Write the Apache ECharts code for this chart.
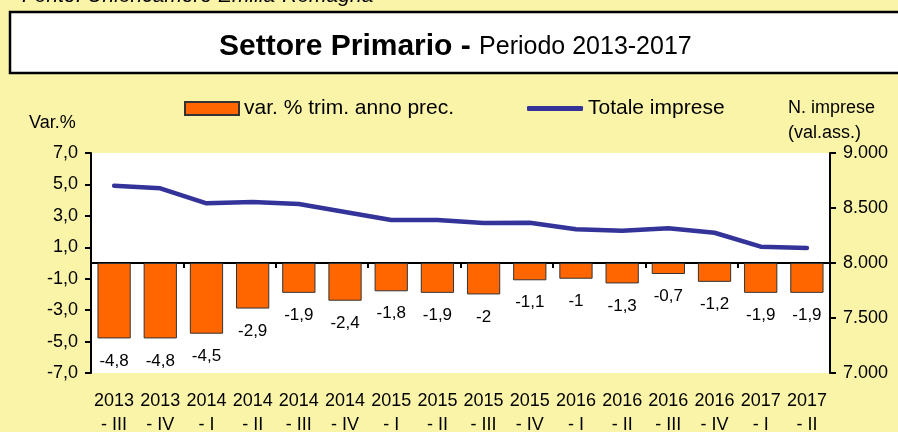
<!DOCTYPE html>
<html lang="it">
<head>
    <meta charset="UTF-8">
    <title>Settore Primario</title>
    <script src="https://cdn.jsdelivr.net/npm/echarts@6/dist/echarts.min.js"></script>
    <style>
        html, body { margin: 0; padding: 0; background: #FAF4A8; }
    </style>
</head>
<body>
    <div id="main" style="width: 898px;height:432px;"></div>

    <script type="text/javascript">

        // dati
        var categorie = ['2013 - III', '2013 - IV', '2014 - I', '2014 - II', '2014 - III', '2014 - IV',
                         '2015 - I', '2015 - II', '2015 - III', '2015 - IV', '2016 - I', '2016 - II',
                         '2016 - III', '2016 - IV', '2017 - I', '2017 - II']
        var varTrim = [-4.8, -4.8, -4.5, -2.9, -1.9, -2.4, -1.8, -1.9, -2, -1.1, -1, -1.3, -0.7, -1.2, -1.9, -1.9]
        var totaleImprese = [8703, 8679, 8543, 8555, 8536, 8464, 8391, 8391, 8364, 8366, 8306, 8294, 8315, 8275, 8148, 8136]

        var font = "Arial, 'Liberation Sans', sans-serif"

        var myChart = echarts.init(document.getElementById('main'));

        var option = {
            backgroundColor: '#FAF4A8',
            textStyle: { fontFamily: font, color: '#000' },
            animation: false,
            title: {
                left: 214,
                top: 27,
                text: '{b|Settore Primario - }{n|Periodo 2013-2017}',
                textStyle: {
                    fontWeight: 'normal',
                    rich: {
                        b: { fontFamily: font, fontSize: 30, fontWeight: 'bold', color: '#000' },
                        n: { fontFamily: font, fontSize: 25, fontWeight: 'normal', color: '#000' }
                    }
                }
            },
            graphic: [
                { type: 'rect', z: -1, shape: { x: 10, y: 12, width: 900, height: 61 },
                  style: { fill: '#fff', stroke: '#000', lineWidth: 2.5 } },
                { type: 'text', left: 22, top: -14,
                  style: { text: 'Fonte: Unioncamere Emilia-Romagna', font: "italic 21px " + font, fill: '#000' } },
                { type: 'text', left: 29, top: 114,
                  style: { text: 'Var.%', font: "18px " + font, fill: '#000' } },
                { type: 'text', left: 788, top: 96,
                  style: { text: 'N. imprese\n(val.ass.)', font: "18px " + font, fill: '#000', lineHeight: 25 } }
            ],
            legend: [{
                data: [{ name: 'var. % trim. anno prec.', icon: 'rect' }],
                left: 184, top: 98, padding: 0,
                itemWidth: 54, itemHeight: 13,
                textStyle: { fontSize: 21, fontFamily: font, color: '#000' }
            }, {
                data: [{ name: 'Totale imprese', icon: 'roundRect' }],
                left: 527, top: 98, padding: 0,
                itemWidth: 56, itemHeight: 5,
                textStyle: { fontSize: 21, fontFamily: font, color: '#000' }
            }],
            grid: {
                left: 91, right: 68, top: 153, bottom: 59,
                outerBoundsMode: 'none', containLabel: false,
                show: true, backgroundColor: '#fff', borderWidth: 0
            },
            xAxis: [{
                type: 'category',
                data: categorie,
                position: 'bottom',
                axisLine: { show: false, onZero: false },
                axisTick: { show: false },
                axisLabel: {
                    interval: 0, margin: 16, fontSize: 18, lineHeight: 24, color: '#000',
                    formatter: function (v) { return v.replace(' - ', '\n- ') }
                }
            }, {
                type: 'category',
                data: categorie,
                position: 'bottom',
                axisLine: { show: true, onZero: true, onZeroAxisIndex: 0, lineStyle: { color: '#000', width: 2 } },
                axisTick: { show: true, length: 5, lineStyle: { color: '#000', width: 2 } },
                axisLabel: { show: false }
            }],
            yAxis: [{
                type: 'value',
                min: -7, max: 7, interval: 2,
                splitLine: { show: false },
                axisLine: { show: true, lineStyle: { color: '#000', width: 2 } },
                axisTick: { show: true, length: 6, lineStyle: { color: '#000', width: 2 } },
                axisLabel: {
                    margin: 13, fontSize: 18, color: '#000',
                    formatter: function (v) { return v.toFixed(1).replace('.', ',') }
                }
            }, {
                type: 'value',
                min: 7000, max: 9000, interval: 500,
                position: 'right',
                splitLine: { show: false },
                axisLine: { show: true, lineStyle: { color: '#000', width: 2 } },
                axisTick: { show: true, length: 6, lineStyle: { color: '#000', width: 2 } },
                axisLabel: {
                    margin: 13, fontSize: 18, color: '#000',
                    formatter: function (v) { return (v / 1000).toFixed(3) }
                }
            }],
            series: [{
                name: 'var. % trim. anno prec.',
                type: 'bar',
                data: varTrim,
                barCategoryGap: '28%',
                itemStyle: { color: '#FF6600', borderColor: '#333', borderWidth: 1 },
                label: {
                    show: true, position: 'bottom', distance: 14,
                    fontSize: 17, fontFamily: font, color: '#000',
                    formatter: function (p) { return String(p.value).replace('.', ',') }
                }
            }, {
                name: 'Totale imprese',
                type: 'line',
                yAxisIndex: 1,
                data: totaleImprese,
                symbol: 'none',
                z: 5,
                itemStyle: { color: '#333399' },
                lineStyle: { color: '#333399', width: 4.5, cap: 'round', join: 'round' }
            }]
        };
        myChart.setOption(option);
    </script>
</body>
</html>
